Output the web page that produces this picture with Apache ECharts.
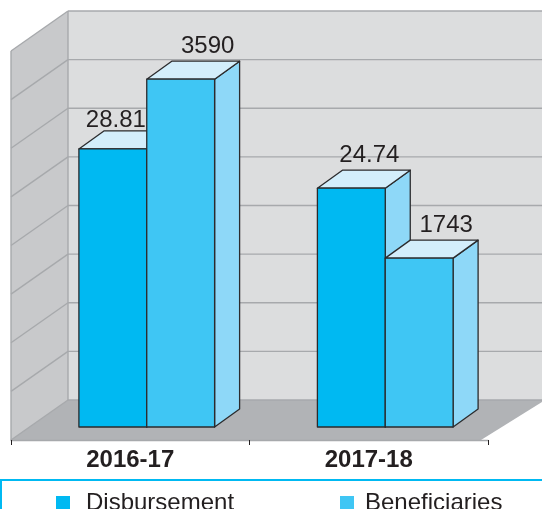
<!DOCTYPE html>
<html>
<head>
<meta charset="utf-8">
<style>html,body{margin:0;padding:0;background:#fff}#c{width:542px;height:509px}</style>
<script src="https://cdn.jsdelivr.net/npm/echarts@6/dist/echarts.min.js"></script>
</head>
<body>
<div id="c"></div>
<script>
const categories = ['2016-17', '2017-18'];
const disbursement = [28.81, 24.74];
const beneficiaries = [3590, 1743];
const gridTicks = [0, 500, 1000, 1500, 2000, 2500, 3000, 3500, 4000];

const FONT = '"Liberation Sans", Arial, sans-serif';
const INK = '#231f20';
const WALL = { dx: 57, dy: -40 };
const PLANE = { dx: 16.5, dy: -13 };
const DEPTH = { dx: 25, dy: -18 };

function frameItem(params, api) {
  const tick = api.value(1);
  const i = params.dataIndex;
  const lo = api.coord([0, tick]);
  const left = lo[0] - api.size([1, 0])[0] / 2;
  const right = left + api.size([1, 0])[0] * 2;
  const y = lo[1];
  const children = [];
  const line = (x1, y1, x2, y2) => ({
    type: 'line', shape: { x1, y1, x2, y2 },
    style: { stroke: '#a7a9ac', lineWidth: 1.4 }
  });
  if (i === 0) {
    const topY = api.coord([0, gridTicks[gridTicks.length - 1]])[1];
    const poly = (points, fill) => ({ type: 'polygon', shape: { points }, style: { fill } });
    children.push(poly([[left + WALL.dx, topY + WALL.dy], [right + WALL.dx, topY + WALL.dy], [right + WALL.dx, y + WALL.dy], [left + WALL.dx, y + WALL.dy]], '#dcddde'));
    children.push(poly([[left, topY], [left + WALL.dx, topY + WALL.dy], [left + WALL.dx, y + WALL.dy], [left, y]], '#c8c9cb'));
    children.push(poly([[left, y], [left + WALL.dx, y + WALL.dy], [right + WALL.dx, y + WALL.dy], [right - 7, y]], '#b1b3b6'));
    children.push(line(left, topY, left, y));
    children.push(line(left + WALL.dx, topY + WALL.dy, left + WALL.dx, y + WALL.dy));
  }
  children.push(line(left + WALL.dx, y + WALL.dy, right + WALL.dx, y + WALL.dy));
  children.push(line(left, y, left + WALL.dx, y + WALL.dy));
  return { type: 'group', children };
}

function barItem(side, fill, fmt) {
  return function (params, api) {
    const cat = api.value(0);
    const val = api.value(1);
    const top = api.coord([cat, val]);
    const base = api.coord([cat, 0]);
    const w = api.size([1, 0])[0] * 0.2845;
    const x0 = top[0] + PLANE.dx + (side < 0 ? -w : 0);
    const x1 = x0 + w;
    const yT = top[1] + PLANE.dy;
    const yB = base[1] + PLANE.dy;
    const d = DEPTH;
    const edge = { stroke: '#2b2b2d', lineWidth: 1.3, lineJoin: 'round' };
    const poly = (points, f) => ({ type: 'polygon', shape: { points }, style: Object.assign({ fill: f }, edge) });
    // the shorter first bar's label sits clear of its taller neighbour
    const crowded = side < 0 && disbursement[cat] / 40.3 < beneficiaries[cat] / 4000;
    const labelX = (x0 + x1) / 2 + (crowded ? 3 : (side < 0 ? 18 : 27));
    const labelY = yT - (crowded ? 17 : 21);
    return {
      type: 'group',
      children: [
        poly([[x1, yT], [x1 + d.dx, yT + d.dy], [x1 + d.dx, yB + d.dy], [x1, yB]], '#8ed8f8'),
        poly([[x0, yT], [x0 + d.dx, yT + d.dy], [x1 + d.dx, yT + d.dy], [x1, yT]], '#d3eefb'),
        poly([[x0, yT], [x1, yT], [x1, yB], [x0, yB]], fill),
        { type: 'text', z2: 10, style: {
          text: fmt(val), x: labelX, y: labelY, fill: INK,
          fontSize: 24, fontFamily: FONT, align: 'center', verticalAlign: 'bottom'
        } }
      ]
    };
  };
}

const chart = echarts.init(document.getElementById('c'), null, { renderer: 'canvas' });
chart.setOption({
  animation: false,
  backgroundColor: '#fff',
  grid: { left: 11, right: 54, top: 51, bottom: 69 },
  xAxis: {
    type: 'category', data: categories,
    axisLine: { lineStyle: { color: '#a7a9ac', width: 1.4 } },
    axisTick: { show: true, length: 5, lineStyle: { color: INK, width: 1 } },
    axisLabel: { color: INK, fontFamily: FONT, fontSize: 24, fontWeight: 'bold', margin: 8 },
    z: 3
  },
  yAxis: [
    { type: 'value', min: 0, max: 40.3, show: false, splitLine: { show: false } },
    { type: 'value', min: 0, max: 4015, show: false, splitLine: { show: false } },
    { type: 'value', min: 0, max: 4000, interval: 500, show: false, splitLine: { show: false } }
  ],
  legend: [
    { data: ['Disbursement'], left: 56, top: 491, padding: 0, itemWidth: 14, itemHeight: 14, selectedMode: false,
      icon: 'rect', textStyle: { color: INK, fontFamily: FONT, fontSize: 24, padding: [0, 0, 0, 11] } },
    { data: ['Beneficiaries'], left: 340, top: 491, padding: 0, itemWidth: 14, itemHeight: 14, selectedMode: false,
      icon: 'rect', textStyle: { color: INK, fontFamily: FONT, fontSize: 24, padding: [0, 0, 0, 6] } }
  ],
  graphic: [{
    type: 'rect', z: -1, silent: true,
    shape: { x: 1, y: 480, width: 600, height: 60 },
    style: { fill: '#fff', stroke: '#00b9f2', lineWidth: 2 }
  }],
  series: [
    { name: 'frame', type: 'custom', yAxisIndex: 2, z: 1, silent: true, renderItem: frameItem,
      encode: { x: 0, y: 1 }, data: gridTicks.map(t => [0, t]) },
    { name: 'Disbursement', type: 'custom', yAxisIndex: 0, z: 2, silent: true,
      itemStyle: { color: '#00b9f2' },
      renderItem: barItem(-1, '#00b9f2', v => v.toFixed(2)),
      encode: { x: 0, y: 1 }, data: disbursement.map((v, i) => [i, v]) },
    { name: 'Beneficiaries', type: 'custom', yAxisIndex: 1, z: 2, silent: true,
      itemStyle: { color: '#3fc6f4' },
      renderItem: barItem(1, '#3fc6f4', v => String(v)),
      encode: { x: 0, y: 1 }, data: beneficiaries.map((v, i) => [i, v]) }
  ]
});
</script>
</body>
</html>
